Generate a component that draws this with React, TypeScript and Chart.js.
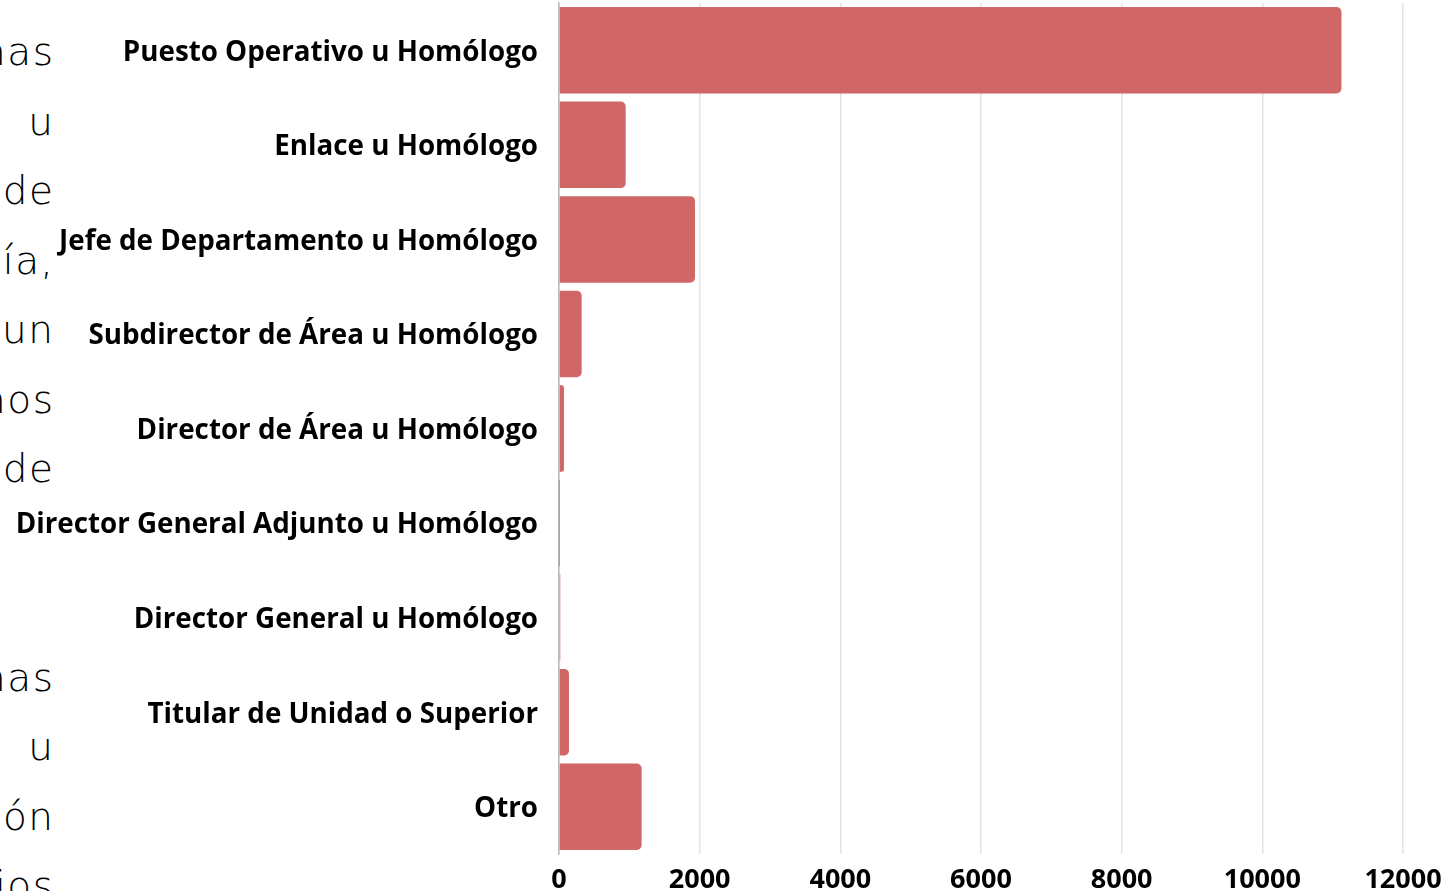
import React, { useEffect, useRef } from "react";
import { Chart, registerables } from "chart.js";

Chart.register(...registerables);

const categories: string[] = [
  "Puesto Operativo u Homólogo",
  "Enlace u Homólogo",
  "Jefe de Departamento u Homólogo",
  "Subdirector de Área u Homólogo",
  "Director de Área u Homólogo",
  "Director General Adjunto u Homólogo",
  "Director General u Homólogo",
  "Titular de Unidad o Superior",
  "Otro",
];

const values: number[] = [11125, 948, 1934, 322, 70, 2, 18, 142, 1175];

const xMin = 0;
const xMax = 12000;
const xStep = 2000;

const sideTextLines: string[] = [
  "nas",
  "u",
  "de",
  "uía,",
  "un",
  "nos",
  "de",
  "",
  "",
  "nas",
  "u",
  "ón",
  "ios",
];

const BAR_COLOR = "#d16666";

export default function App() {
  const canvasRef = useRef<HTMLCanvasElement | null>(null);

  useEffect(() => {
    if (!canvasRef.current) return;
    const chart = new Chart(canvasRef.current, {
      type: "bar",
      data: {
        labels: categories,
        datasets: [
          {
            data: values,
            backgroundColor: BAR_COLOR,
            borderWidth: 0,
            borderRadius: 5,
            borderSkipped: "start",
            barPercentage: 0.915,
            categoryPercentage: 1,
          },
        ],
      },
      options: {
        indexAxis: "y",
        animation: false,
        responsive: true,
        maintainAspectRatio: false,
        layout: { padding: { top: 3, right: 43, left: 0, bottom: 0 } },
        plugins: {
          legend: { display: false },
          tooltip: { enabled: false },
        },
        scales: {
          x: {
            min: xMin,
            max: xMax,
            ticks: {
              stepSize: xStep,
              color: "#000",
              padding: 10,
              font: { family: "'Open Sans'", weight: "bold", size: 27 },
              callback: (v: any) => String(v),
            },
            grid: {
              color: "#e3e3e3",
              lineWidth: 1.5,
              drawTicks: false,
            },
            border: { display: false },
            afterFit: (scale: any) => {
              scale.height = 46;
              scale.paddingLeft = 0;
              scale.paddingRight = 0;
            },
          },
          y: {
            ticks: {
              color: "#000",
              padding: 21,
              labelOffset: 2.5,
              font: { family: "'Open Sans'", weight: "bold", size: 27.75 },
            },
            grid: { display: false, drawTicks: false },
            border: { display: true, color: "#b8b8b8", width: 1.5 },
            afterFit: (scale: any) => {
              scale.width = 559;
              scale.paddingTop = 0;
              scale.paddingBottom = 0;
            },
          },
        },
      },
    });
    return () => chart.destroy();
  }, []);

  return (
    <div
      style={{
        position: "fixed",
        left: 0,
        top: 0,
        width: 1446,
        height: 891,
        overflow: "hidden",
        background: "#fff",
      }}
    >
      <div
        style={{
          position: "absolute",
          left: -300,
          top: 17,
          width: 354.5,
          textAlign: "right",
          fontFamily: "'DejaVu Sans', sans-serif",
          fontWeight: 200,
          fontSize: 39,
          letterSpacing: 1.5,
          lineHeight: "69.5px",
          color: "#000",
          whiteSpace: "nowrap",
        }}
      >
        {sideTextLines.map((t, i) => (
          <div key={i} style={{ height: 69.5 }}>
            {t}
          </div>
        ))}
      </div>
      <div
        style={{
          position: "absolute",
          left: 0,
          top: 0,
          width: 1446,
          height: 900,
        }}
      >
        <canvas ref={canvasRef} />
      </div>
    </div>
  );
}
